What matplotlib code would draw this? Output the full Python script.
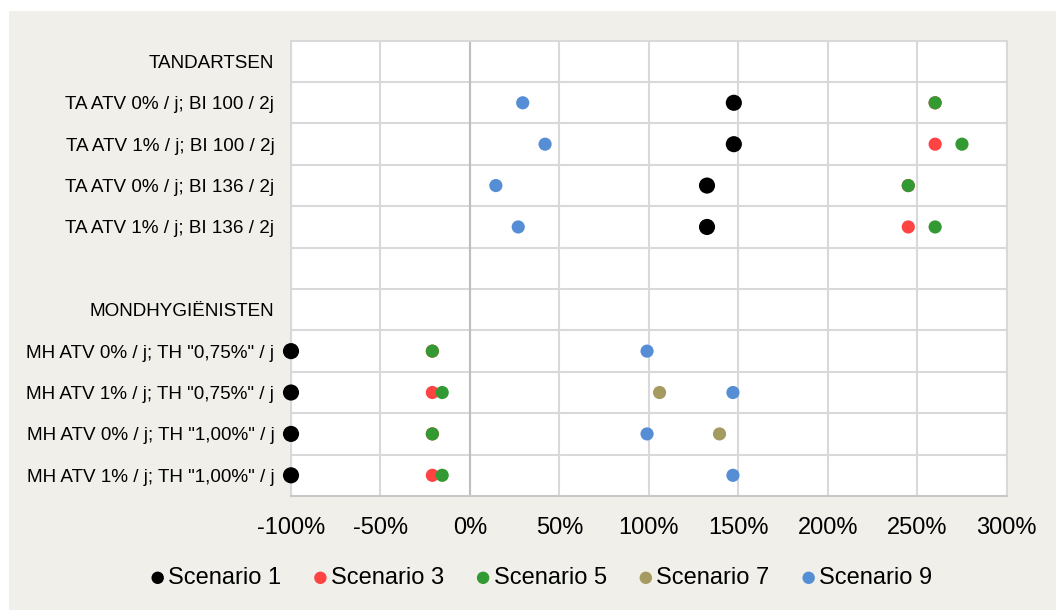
import numpy as np
import matplotlib
matplotlib.use("Agg")
import matplotlib.pyplot as plt
from matplotlib.patches import Rectangle

plt.rcParams['font.family'] = ['Liberation Sans', 'DejaVu Sans']
plt.rcParams['axes.unicode_minus'] = False

nan = np.nan
categories = ["TANDARTSEN",
              "TA ATV 0% / j; BI 100 / 2j",
              "TA ATV 1% / j; BI 100 / 2j",
              "TA ATV 0% / j; BI 136 / 2j",
              "TA ATV 1% / j; BI 136 / 2j",
              "",
              "MONDHYGIËNISTEN",
              'MH ATV 0% / j; TH "0,75%" / j',
              'MH ATV 1% / j; TH "0,75%" / j',
              'MH ATV 0% / j; TH "1,00%" / j',
              'MH ATV 1% / j; TH "1,00%" / j']

scenario_1 = [nan, 147.5, 147.5, 132.5, 132.5, nan, nan, -100, -100, -100, -100]
scenario_3 = [nan, 260, 260, 245, 245, nan, nan, -21, -21, -21, -21]
scenario_5 = [nan, 260, 275, 245, 260, nan, nan, -21, -15.5, -21, -15.5]
scenario_7 = [nan, nan, nan, nan, nan, nan, nan, nan, 106, 139.5, nan]
scenario_9 = [nan, 29.5, 42, 14.5, 27, nan, nan, 99, 147, 99, 147]

series_names = ["Scenario 1", "Scenario 3", "Scenario 5", "Scenario 7", "Scenario 9"]
series_values = [scenario_1, scenario_3, scenario_5, scenario_7, scenario_9]
series_colors = ["#000000", "#FF4343", "#339933", "#A59A5F", "#558ED5"]
series_sizes = [135, 90, 90, 90, 90]

xticks = [-100, -50, 0, 50, 100, 150, 200, 250, 300]
xtick_labels = ["-100%", "-50%", "0%", "50%", "100%", "150%", "200%", "250%", "300%"]

W, H = 1056, 610
fig = plt.figure(figsize=(W / 100, H / 100), dpi=100)
fig.patch.set_facecolor("white")
bg = Rectangle((9 / W, 0), 1 - 9 / W, 1 - 11 / H, transform=fig.transFigure,
               facecolor="#F0EFE9", edgecolor="none", zorder=-10)
fig.add_artist(bg)

left, right, top, bottom = 291, 1006.7, 40.7, 496
ax = fig.add_axes([left / W, 1 - bottom / H, (right - left) / W, (bottom - top) / H])
ax.set_facecolor("white")

n = len(categories)
ypos = np.arange(n) + 0.5
for name, vals, col, s in zip(series_names, series_values, series_colors, series_sizes):
    ax.scatter(vals, ypos, s=s, color=col, label=name, zorder=3, clip_on=False,
               edgecolors="none")

ax.set_xlim(-100, 300)
ax.set_ylim(n, 0)
ax.set_xticks(xticks)
ax.set_xticklabels(xtick_labels, fontsize=17)
ax.set_yticks(ypos)
ax.set_yticklabels(categories, fontsize=13.6)
ax.set_yticks(np.arange(1, n), minor=True)
ax.tick_params(axis='y', which='both', length=0, pad=12)
ax.tick_params(axis='x', length=0, pad=15)

ax.grid(axis='x', which='major', color="#D9D9D9", linewidth=1.5, zorder=1)
ax.grid(axis='y', which='minor', color="#D9D9D9", linewidth=1.5, zorder=1)
ax.axvline(0, color="#BFBFBF", linewidth=1.5, zorder=1.5)
for sp in ax.spines.values():
    sp.set_color("#D9D9D9")
    sp.set_linewidth(1.5)
ax.spines['bottom'].set_color("#C8C8C8")
ax.set_axisbelow(True)

handles, labels = ax.get_legend_handles_labels()
leg = fig.legend(handles, labels, loc='center', bbox_to_anchor=(541.5 / W, 1 - 578 / H),
                 ncol=5, frameon=False, fontsize=17, handlelength=0.6, handletextpad=0.15,
                 columnspacing=1.35, borderaxespad=0)
for h in leg.legend_handles:
    h.set_sizes([80])

fig.savefig("out.png", dpi=100, facecolor=fig.get_facecolor())
